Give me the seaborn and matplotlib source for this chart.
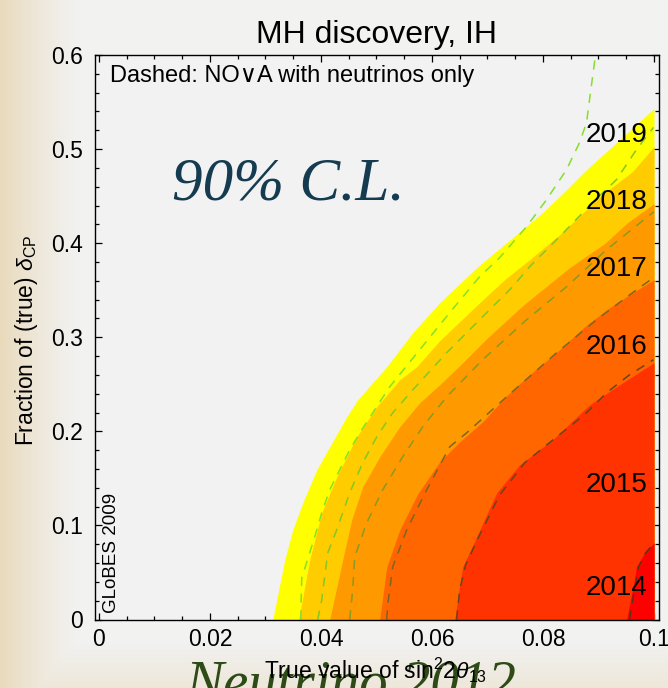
import numpy as np
import matplotlib
matplotlib.use("Agg")
import matplotlib.pyplot as plt
from matplotlib.ticker import MultipleLocator
import seaborn as sns

# ---------------- data ----------------
years = ["2019", "2018", "2017", "2016", "2015", "2014"]

x_2019 = [0.03132, 0.03348, 0.03492, 0.03672, 0.03924, 0.04158, 0.04464, 0.04662, 0.05185,
          0.05653, 0.06139, 0.06805, 0.07345, 0.07993, 0.08425, 0.08785, 0.09325, 0.10]
y_2019 = [0.0, 0.0633, 0.0952, 0.1239, 0.1590, 0.1835, 0.2154, 0.2335, 0.2686,
          0.3048, 0.3367, 0.3739, 0.4005, 0.4324, 0.4569, 0.4782, 0.5069, 0.5431]

x_2018 = [0.03600, 0.03798, 0.04014, 0.04284, 0.04644, 0.05005, 0.05419, 0.05725, 0.06139,
          0.06859, 0.07309, 0.07759, 0.08299, 0.09073, 0.09613, 0.10]
y_2018 = [0.0, 0.0633, 0.1133, 0.1516, 0.1941, 0.2261, 0.2548, 0.2686, 0.2963,
          0.3367, 0.3612, 0.3824, 0.4090, 0.4516, 0.4761, 0.5027]

x_2017 = [0.04158, 0.04392, 0.04554, 0.04752, 0.05059, 0.05419, 0.05779, 0.06139, 0.06499,
          0.06985, 0.07633, 0.08479, 0.09109, 0.09523, 0.10]
y_2017 = [0.0, 0.0633, 0.1059, 0.1410, 0.1729, 0.2048, 0.2303, 0.2495, 0.2697,
          0.2984, 0.3335, 0.3739, 0.3995, 0.4218, 0.4420]

x_2016 = [0.05059, 0.05185, 0.05419, 0.05743, 0.06139, 0.06499, 0.06913, 0.07345, 0.07759,
          0.08299, 0.08749, 0.09199, 0.09559, 0.10]
y_2016 = [0.0, 0.0559, 0.0952, 0.1335, 0.1676, 0.1888, 0.2101, 0.2378, 0.2601,
          0.2867, 0.3112, 0.3314, 0.3452, 0.3612]

x_2015 = [0.06409, 0.06553, 0.06805, 0.07165, 0.07579, 0.08173, 0.08839, 0.09379, 0.10]
y_2015 = [0.0, 0.0559, 0.0878, 0.1346, 0.1644, 0.1910, 0.2282, 0.2495, 0.2729]

x_2014 = [0.09505, 0.09613, 0.09685, 0.09829, 0.10]
y_2014 = [0.0, 0.0314, 0.0559, 0.0707, 0.0814]

# NOvA neutrinos-only curves (dashed)
xnu_2019 = [0.03636, 0.03654, 0.03888, 0.04014, 0.04158, 0.04338, 0.04518, 0.04734, 0.04968,
            0.05239, 0.05779, 0.06319, 0.06859, 0.07219, 0.07705, 0.08065, 0.08425, 0.08659,
            0.08785, 0.08839, 0.08947]
ynu_2019 = [0.0, 0.0441, 0.0878, 0.1133, 0.1378, 0.1590, 0.1803, 0.2016, 0.2229,
            0.2473, 0.2867, 0.3261, 0.3644, 0.3846, 0.4176, 0.4463, 0.4782, 0.5069,
            0.5282, 0.5527, 0.6005]

xnu_2018 = [0.03942, 0.04014, 0.04122, 0.04284, 0.04518, 0.04752, 0.05005, 0.05293, 0.05689,
            0.06265, 0.06859, 0.07453, 0.07759, 0.08299, 0.08893, 0.09325, 0.09685, 0.0999]
ynu_2018 = [0.0, 0.0207, 0.0707, 0.0952, 0.1346, 0.1665, 0.1941, 0.2197, 0.2463,
            0.2835, 0.3186, 0.3537, 0.3750, 0.4069, 0.4431, 0.4676, 0.4995, 0.5230]

xnu_2017 = [0.04518, 0.04572, 0.04608, 0.04824, 0.05113, 0.05473, 0.05833, 0.06265, 0.06913,
            0.07705, 0.08425, 0.09145, 0.10]
ynu_2017 = [0.0, 0.0314, 0.0665, 0.1027, 0.1378, 0.1729, 0.2048, 0.2367, 0.2761,
            0.3186, 0.3537, 0.3931, 0.4335]

xnu_2016 = [0.05185, 0.05203, 0.05293, 0.05545, 0.05905, 0.06319, 0.06625, 0.07345, 0.08245,
            0.08965, 0.09613, 0.0999]
ynu_2016 = [0.0, 0.0154, 0.0559, 0.0952, 0.1378, 0.1835, 0.1984, 0.2367, 0.2835,
            0.3186, 0.3473, 0.3633]

xnu_2015 = [0.06445, 0.06499, 0.06607, 0.06859, 0.07219, 0.07669, 0.08245, 0.08749, 0.09145,
            0.09559, 0.0999]
ynu_2015 = [0.0, 0.0314, 0.0580, 0.0899, 0.1324, 0.1665, 0.1941, 0.2176, 0.2410,
            0.2601, 0.2761]

xnu_2014 = [0.09559, 0.09631, 0.09721, 0.09847, 0.0999]
ynu_2014 = [0.0, 0.0261, 0.0559, 0.0707, 0.0803]

x_ticks = [0.0, 0.02, 0.04, 0.06, 0.08, 0.1]
x_tick_labels = ["0", "0.02", "0.04", "0.06", "0.08", "0.1"]
y_ticks = [0.0, 0.1, 0.2, 0.3, 0.4, 0.5, 0.6]
y_tick_labels = ["0", "0.1", "0.2", "0.3", "0.4", "0.5", "0.6"]

# ---------------- styling ----------------
fill_colors = ["#ffff00", "#ffcc00", "#ff9900", "#ff6600", "#ff3300", "#ff0000"]
dash_colors = ["#84e02a", "#80c828", "#869a24", "#7a6624", "#684420", "#5a3418"]
label_pos = [(0.0988, 0.507), (0.0988, 0.4367), (0.0988, 0.3654),
             (0.0988, 0.2824), (0.0988, 0.1356), (0.0988, 0.0261)]

sns.set_theme(style="ticks")
plt.rcParams["font.family"] = ["Liberation Sans", "DejaVu Sans"]
plt.rcParams["mathtext.fontset"] = "custom"
plt.rcParams["mathtext.rm"] = "Liberation Sans"
plt.rcParams["mathtext.it"] = "Liberation Sans:italic"
plt.rcParams["mathtext.bf"] = "Liberation Sans:bold"

W, H = 668, 688
fig = plt.figure(figsize=(W / 100, H / 100), dpi=100)

# slide background (beige paper fading into light grey)
bg_ax = fig.add_axes([0, 0, 1, 1], zorder=-10)
yy, xx = np.mgrid[0:H, 0:W]
t_left = np.clip((80 - xx) / 80.0, 0, 1) ** 1.3
t_bot = np.clip((yy - 640) / 48.0, 0, 1) * 0.45
t = np.maximum(t_left, t_bot)
grey = np.array([242, 242, 241]) / 255.0
beige = np.array([233, 218, 188]) / 255.0
bg = grey * (1 - t[..., None]) + beige * t[..., None]
bg_ax.imshow(bg, aspect="auto", extent=[0, 1, 0, 1])
bg_ax.set_axis_off()

ax = fig.add_axes([95 / W, (H - 619.5) / H, 564 / W, 564.5 / H])
ax.set_facecolor("#f2f2f2")

fills = [(x_2019, y_2019), (x_2018, y_2018), (x_2017, y_2017),
         (x_2016, y_2016), (x_2015, y_2015), (x_2014, y_2014)]
for (xs, ys), c in zip(fills, fill_colors):
    ax.fill_betweenx(ys, xs, 0.1, color=c, linewidth=0, zorder=1)

dashed = [(xnu_2019, ynu_2019), (xnu_2018, ynu_2018), (xnu_2017, ynu_2017),
          (xnu_2016, ynu_2016), (xnu_2015, ynu_2015), (xnu_2014, ynu_2014)]
for (xs, ys), c in zip(dashed, dash_colors):
    sns.lineplot(x=xs, y=ys, sort=False, estimator=None, ax=ax, color=c,
                 linewidth=1.1, linestyle=(0, (6, 5)), zorder=2)

ax.set_xlim(-0.0007, 0.1009)
ax.set_ylim(0, 0.6)
ax.set_xticks(x_ticks, labels=x_tick_labels)
ax.set_yticks(y_ticks, labels=y_tick_labels)
ax.xaxis.set_minor_locator(MultipleLocator(0.005))
ax.yaxis.set_minor_locator(MultipleLocator(0.02))
ax.tick_params(which="both", direction="in", top=True, right=True, color="black", width=0.9)
ax.tick_params(which="major", length=5)
ax.tick_params(which="minor", length=3)
ax.tick_params(axis="x", which="major", labelsize=16.5, pad=6, labelcolor="black")
ax.tick_params(axis="y", which="major", labelsize=16.5, pad=9, labelcolor="black")
for s in ax.spines.values():
    s.set_color("black")
    s.set_linewidth(1.0)
    s.set_zorder(5)

ax.set_xlabel(r"True value of sin$^2$2$\theta_{13}$", fontsize=16.5, color="black")
ax.xaxis.set_label_coords(0.498, -0.064)
ax.set_ylabel(r"Fraction of (true) $\delta_{\rm CP}$", fontsize=16.5, color="black")
ax.yaxis.set_label_coords(-0.098, 0.495)

ax.text(0.5, 1 + 12 / 564.5, "MH discovery, IH", transform=ax.transAxes,
        ha="center", va="baseline", fontsize=23, color="black")
ax.text(15 / 564, (619.5 - 82) / 564.5, "Dashed: NO\u2228A with neutrinos only",
        transform=ax.transAxes, ha="left", va="baseline", fontsize=17,
        family=["Liberation Sans", "DejaVu Sans"], color="black")

for yr, (lx, ly) in zip(years, label_pos):
    ax.text(lx, ly, yr, ha="right", va="baseline", fontsize=20, color="black", zorder=6)

ax.text(0.00234, 0.007, "GLoBES 2009", rotation=90, ha="center", va="bottom",
        fontsize=13.5, color="black", zorder=6)

ax.text(0.01314, 0.4463, "90% C.L.", ha="left", va="baseline", fontsize=44,
        family="Liberation Serif", style="italic", color="#143b50", zorder=6)

fig.text(185 / W, (H - 700) / H, "Neutrino 2012", ha="left", va="baseline",
         fontsize=41, family="Liberation Serif", style="italic",
         color="#2e4b17", zorder=-1)

fig.savefig("out.png", dpi=100)
